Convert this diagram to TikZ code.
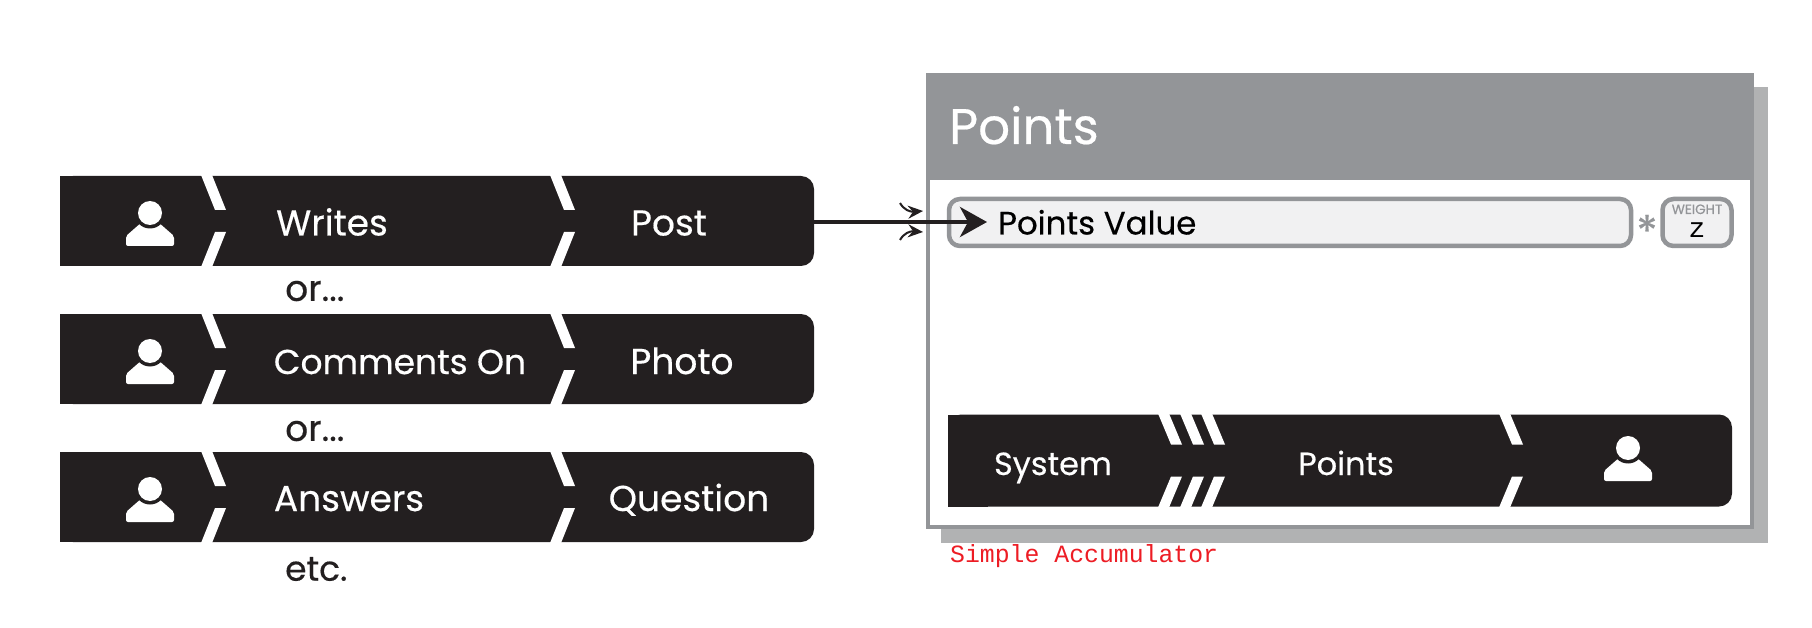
\documentclass[tikz,border=0pt]{standalone}
\usepackage{fontspec}
\setmainfont{Poppins}[FakeBold=0.4]
\newfontfamily\stampfont{Liberation Mono}
\usetikzlibrary{arrows.meta}
\definecolor{barblack}{HTML}{231F20}
\definecolor{panelgray}{HTML}{939598}
\definecolor{shadowgray}{HTML}{B1B2B3}
\definecolor{boxfill}{HTML}{F1F1F2}
\definecolor{stampred}{HTML}{ED1C24}
\tikzset{
  actionbar/.style={fill=barblack, rounded corners=13, inner sep=0, minimum height=90},
  barpatch/.style={fill=barblack, inner sep=0, minimum width=40, minimum height=90},
  bartext/.style={text=white, font=\fontsize{36}{36}\selectfont, text height=26, text depth=0, inner sep=0},
  systemtext/.style={text=white, font=\fontsize{32}{32}\selectfont, text height=23, text depth=0, inner sep=0},
  ortext/.style={text=barblack, font=\fontsize{36}{36}\selectfont, anchor=west, inner sep=0},
  valuebox/.style={draw=panelgray, line width=4.5, fill=boxfill, rounded corners=11, inner sep=0, minimum height=47},
  linkarrow/.style={draw=barblack, line width=4, -{Stealth[length=27,width=30,inset=8]}},
  smallarrow/.style={draw=barblack, line width=2, -{Stealth[length=15,width=13,inset=5]}},
  person/.pic={
    \fill[white, rounded corners=2] (-24,33) -- (-24,23) -- (-8,9) -- (8,9) -- (24,23) -- (24,33) -- cycle;
    \fill[barblack] (0,0) circle (15.5);
    \fill[white] (0,0) circle (12);
  },
  barbreak/.pic={
    \fill[white] (0,-46) -- (11,-46) -- (25,-11) -- (14,-11) -- cycle;
    \fill[white] (14,11) -- (25,11) -- (11,46) -- (0,46) -- cycle;
  },
  systembreak/.pic={
    \fill[white] (0,-47) -- (11,-47) -- (24,-16) -- (13,-16) -- cycle;
    \fill[white] (13,16) -- (24,16) -- (11,47) -- (0,47) -- cycle;
  },
}
\begin{document}
\begin{tikzpicture}[x=1pt, y=-1pt]
  \useasboundingbox[fill=white] (0,0) rectangle (1812,628);

  % left column
  \node[actionbar, minimum width=754] (writesbar) at (437,221) {};
  \node[barpatch] (writesleft) at (80,221) {};
  \pic at (150,213) {person};
  \pic at (201,221) {barbreak};
  \pic at (550,221) {barbreak};
  \node[bartext] (writes) at (332,222.5) {Writes};
  \node[bartext] (post) at (669,222.5) {Post};
  \node[ortext] (or1) at (285,291) {or...};

  \node[actionbar, minimum width=754] (commentsbar) at (437,359) {};
  \node[barpatch] (commentsleft) at (80,359) {};
  \pic at (150,351) {person};
  \pic at (201,359) {barbreak};
  \pic at (550,359) {barbreak};
  \node[bartext, font=\fontsize{34.5}{34.5}\selectfont] (comments) at (400,361) {Comments On};
  \node[bartext] (photo) at (682,361) {Photo};
  \node[ortext] (or2) at (285,431) {or...};

  \node[actionbar, minimum width=754] (answersbar) at (437,497) {};
  \node[barpatch] (answersleft) at (80,497) {};
  \pic at (150,489) {person};
  \pic at (201,497) {barbreak};
  \pic at (550,497) {barbreak};
  \node[bartext] (answers) at (349,498) {Answers};
  \node[bartext] (question) at (689,498) {Question};
  \node[ortext, font=\fontsize{34.5}{34.5}\selectfont] (etc) at (285,569) {etc.};

  % panel
  \node[fill=shadowgray, inner sep=0, minimum width=827, minimum height=456] (shadow) at (1354.5,315) {};
  \node[draw=panelgray, line width=4, fill=white, inner sep=0, minimum width=824, minimum height=452] (panel) at (1340,301) {};
  \node[fill=panelgray, inner sep=0, minimum width=828, minimum height=107] (header) at (1340,126.5) {};
  \node[text=white, font=\fontsize{50}{50}\selectfont, anchor=west, text height=36, text depth=0, inner sep=0] (title) at (949,126) {Points};

  \node[valuebox, minimum width=682] (value) at (1290,222.5) {};
  \node[text=black, font=\fontsize{32.4}{32.4}\selectfont, anchor=west, text height=23, text depth=0, inner sep=0] (valuetext) at (998,223) {Points Value};
  \node[text=panelgray, font=\fontsize{44}{44}\selectfont, inner sep=0] (times) at (1647,231) {*};
  \node[valuebox, minimum width=69] (weight) at (1697,222.5) {};
  \node[text=panelgray, font=\fontsize{13.5}{13.5}\selectfont, text height=10, text depth=0, inner sep=0] (weightlabel) at (1697,209) {WEIGHT};
  \node[text=black, font=\stampfont\fontsize{28}{28}\selectfont, text height=12, text depth=0, inner sep=0] (weightz) at (1697,232) {z};

  % bottom bar
  \node[actionbar, minimum width=784, minimum height=92] (systembar) at (1340,460.5) {};
  \node[barpatch, minimum height=92] (systemleft) at (968,460.5) {};
  \pic at (1158,460.5) {systembreak};
  \pic at (1180,460.5) {systembreak};
  \pic at (1201,460.5) {systembreak};
  \pic at (1499,460.5) {systembreak};
  \pic at (1628,448) {person};
  \node[systemtext] (system) at (1053,463.5) {System};
  \node[systemtext] (points) at (1346,463.5) {Points};

  \node[text=stampred, font=\stampfont\fontsize{24.8}{24.8}\selectfont, anchor=west, inner sep=0] (stamp) at (950,556) {Simple Accumulator};

  % arrows
  \coordinate (valuetip) at (987,222);
  \coordinate (upperfrom) at (900,203);
  \coordinate (upperto) at (923,211);
  \coordinate (lowerfrom) at (900,240);
  \coordinate (lowerto) at (923,232);
  \draw[linkarrow] (writesbar.east |- valuetip) -- (valuetip);
  \draw[smallarrow] (upperfrom) .. controls (904,210) and (910,212) .. (upperto);
  \draw[smallarrow] (lowerfrom) .. controls (904,233) and (910,231) .. (lowerto);
\end{tikzpicture}
\end{document}
